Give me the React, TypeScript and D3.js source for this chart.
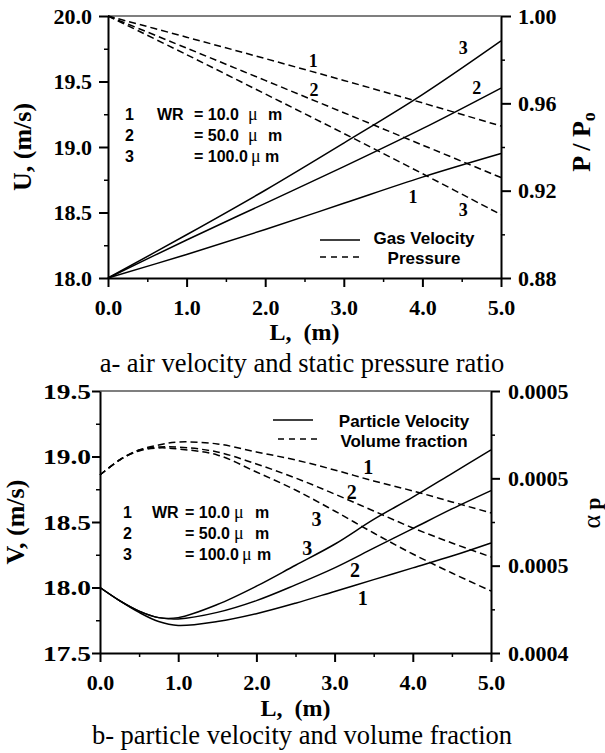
import React, { useEffect, useRef } from "react";
import * as d3 from "d3";

const SERIF = "'Liberation Serif','Times New Roman',serif";
const SANS = "'Liberation Sans',Arial,sans-serif";

// ---------- Chart a: gas velocity & pressure ratio ----------
const L_A = [0, 1, 2, 3, 4, 5];
const GAS_U1 = [18.0, 18.18, 18.37, 18.57, 18.77, 18.95];
const GAS_U2 = [18.0, 18.29, 18.57, 18.85, 19.14, 19.45];
const GAS_U3 = [18.0, 18.33, 18.67, 19.03, 19.4, 19.81];
const PRES_1 = [1.0, 0.9903, 0.9805, 0.9705, 0.9602, 0.9496];
const PRES_2 = [1.0, 0.9853, 0.9705, 0.9557, 0.9409, 0.926];
const PRES_3 = [1.0, 0.9823, 0.9643, 0.9462, 0.9278, 0.909];

const X_TICKS = [0, 1, 2, 3, 4, 5];
const A_U_TICKS = [18.0, 18.5, 19.0, 19.5, 20.0];
const A_P_TICKS = [0.88, 0.92, 0.96, 1.0];

// ---------- Chart b: particle velocity & volume fraction ----------
const L_B = [0, 0.25, 0.5, 0.75, 1, 1.5, 2, 2.5, 3, 3.5, 4, 4.5, 5];
const PART_V1 = [18.0, 17.9, 17.81, 17.74, 17.71, 17.74, 17.8, 17.88, 17.97, 18.06, 18.15, 18.24, 18.34];
const PART_V2 = [18.0, 17.9, 17.82, 17.77, 17.76, 17.81, 17.9, 18.02, 18.15, 18.3, 18.45, 18.6, 18.74];
const PART_V3 = [18.0, 17.9, 17.82, 17.77, 17.77, 17.87, 18.01, 18.17, 18.33, 18.52, 18.69, 18.87, 19.05];
const ALPHA_1 = [0.0005019, 0.0005105, 0.0005162, 0.0005191, 0.0005208, 0.0005197, 0.0005151, 0.0005105, 0.0005048, 0.0004985, 0.0004928, 0.0004865, 0.0004802];
const ALPHA_2 = [0.0005019, 0.0005105, 0.0005162, 0.0005179, 0.0005179, 0.0005151, 0.0005082, 0.0005002, 0.000491, 0.0004813, 0.0004716, 0.000463, 0.000455];
const ALPHA_3 = [0.0005019, 0.0005105, 0.0005157, 0.0005174, 0.0005168, 0.0005134, 0.0005036, 0.0004933, 0.0004813, 0.0004687, 0.0004567, 0.0004458, 0.0004355];

const B_V_TICKS = [17.5, 18.0, 18.5, 19.0, 19.5];
const B_A_TICKS = [0.0004, 0.00045, 0.0005, 0.00055];
const B_A_LABELS = ["0.0004", "0.0005", "0.0005", "0.0005"];

const WR_IDS = ["1", "2", "3"];
const WR_VALUES = ["= 10.0", "= 50.0", "= 100.0"];

const mids = (t: number[]) => d3.pairs(t).map(([a, b]) => (a + b) / 2);

function styleAxis(g: any, labelSize = 22) {
  g.attr("font-size", null).attr("font-family", null);
  g.select(".domain").attr("stroke", "#000").attr("stroke-width", 2);
  g.selectAll(".tick line").attr("stroke", "#000").attr("stroke-width", 2);
  g.selectAll(".tick text")
    .attr("font-family", SERIF)
    .attr("font-weight", "bold")
    .attr("font-size", labelSize)
    .attr("fill", "#000");
}

function minorAxis(parent: any, gen: any, transform: string) {
  const g = parent.append("g").attr("transform", transform).call(gen.tickSize(4).tickFormat(() => ""));
  g.select(".domain").remove();
  g.selectAll(".tick line").attr("stroke", "#000").attr("stroke-width", 1.5);
}

function drawCurves(g: any, x: any, y: any, xs: number[], series: number[][], dashed: boolean) {
  const line = d3
    .line<number>()
    .x((_, i) => x(xs[i]))
    .y((d) => y(d))
    .curve(d3.curveCatmullRom.alpha(0.5));
  series.forEach((s) => {
    g.append("path")
      .attr("d", line(s))
      .attr("fill", "none")
      .attr("stroke", "#000")
      .attr("stroke-width", 1.5)
      .attr("stroke-dasharray", dashed ? "7,4" : null);
  });
}

function curveLabel(g: any, px: number, py: number, text: string, size: number) {
  g.append("text")
    .attr("x", px)
    .attr("y", py)
    .attr("dy", "0.35em")
    .attr("text-anchor", "middle")
    .attr("font-family", SERIF)
    .attr("font-weight", "bold")
    .attr("font-size", size)
    .text(text);
}

function wrLegend(g: any, rows: { y: number; idX: number; wrX: number; eqX: number; muX: number[]; mX: number[] }) {
  WR_IDS.forEach((id, i) => {
    const by = rows.y + i * 21;
    const t = (x: number, s: string, fam = SANS, weight = "bold", size = 16) =>
      g.append("text").attr("x", x).attr("y", by).attr("font-family", fam).attr("font-weight", weight).attr("font-size", size).text(s);
    t(rows.idX, id);
    if (i === 0) t(rows.wrX, "WR");
    t(rows.eqX, WR_VALUES[i]);
    t(rows.muX[i], "\u03bc", SERIF, "normal", 18);
    t(rows.mX[i], "m");
  });
}

function drawA(svg: any) {
  const g = svg.append("g");
  const x = d3.scaleLinear([0, 5], [108, 501]);
  const y = d3.scaleLinear([18, 20], [278, 16]);
  const yp = d3.scaleLinear([0.88, 1.0], [278, 16]);

  // top frame
  g.append("line").attr("x1", x(0)).attr("x2", x(5)).attr("y1", y(20)).attr("y2", y(20)).attr("stroke", "#000").attr("stroke-width", 1.2);

  minorAxis(g, d3.axisBottom(x).tickValues(mids(X_TICKS)), `translate(0,${y(18)})`);
  minorAxis(g, d3.axisLeft(y).tickValues(mids(A_U_TICKS)), `translate(${x(0)},0)`);
  minorAxis(g, d3.axisRight(yp).tickValues(mids(A_P_TICKS)), `translate(${x(5)},0)`);

  const gx = g.append("g").attr("transform", `translate(0,${y(18)})`)
    .call(d3.axisBottom(x).tickValues(X_TICKS).tickSize(9).tickSizeOuter(0).tickFormat((d: any) => d.toFixed(1)));
  styleAxis(gx);
  gx.selectAll(".tick text").attr("y", 37).attr("dy", null);

  const gy = g.append("g").attr("transform", `translate(${x(0)},0)`)
    .call(d3.axisLeft(y).tickValues(A_U_TICKS).tickSize(9).tickPadding(7).tickSizeOuter(0).tickFormat((d: any) => d.toFixed(1)));
  styleAxis(gy);

  const gp = g.append("g").attr("transform", `translate(${x(5)},0)`)
    .call(d3.axisRight(yp).tickValues(A_P_TICKS).tickSize(10).tickPadding(7).tickSizeOuter(0).tickFormat((d: any) => d.toFixed(2)));
  styleAxis(gp);

  drawCurves(g, x, y, L_A, [GAS_U1, GAS_U2, GAS_U3], false);
  drawCurves(g, x, yp, L_A, [PRES_1, PRES_2, PRES_3], true);

  curveLabel(g, x(4.52), y(19.756), "3", 18);
  curveLabel(g, x(4.69), y(19.45), "2", 18);
  curveLabel(g, x(3.88), y(18.62), "1", 18);
  curveLabel(g, x(2.61), y(19.66), "1", 18);
  curveLabel(g, x(2.62), y(19.44), "2", 18);
  curveLabel(g, x(4.52), y(18.52), "3", 18);

  wrLegend(g, { y: 120, idX: 125, wrX: 157, eqX: 194, muX: [248, 248, 251], mX: [268, 268, 265] });

  // series legend
  g.append("line").attr("x1", 320).attr("x2", 360).attr("y1", 240).attr("y2", 240).attr("stroke", "#000").attr("stroke-width", 1.5);
  g.append("line").attr("x1", 320).attr("x2", 361).attr("y1", 257).attr("y2", 257).attr("stroke", "#000").attr("stroke-width", 1.5).attr("stroke-dasharray", "6,5");
  g.append("text").attr("x", 424).attr("y", 244).attr("text-anchor", "middle").attr("font-family", SANS).attr("font-weight", "bold").attr("font-size", 17).text("Gas Velocity");
  g.append("text").attr("x", 424).attr("y", 264).attr("text-anchor", "middle").attr("font-family", SANS).attr("font-weight", "bold").attr("font-size", 17).text("Pressure");

  // axis titles
  g.append("text").attr("transform", `translate(31,${(y(18) + y(20)) / 2}) rotate(-90)`).attr("text-anchor", "middle")
    .attr("font-family", SERIF).attr("font-weight", "bold").attr("font-size", 26).text("U, (m/s)");
  const pt = g.append("text").attr("transform", `translate(590,142) rotate(-90)`).attr("text-anchor", "middle")
    .attr("font-family", SERIF).attr("font-weight", "bold").attr("font-size", 26);
  pt.append("tspan").text("P / P");
  pt.append("tspan").attr("font-size", 18).attr("dy", 5).text("o");
  g.append("text").attr("x", (x(0) + x(5)) / 2).attr("y", 340).attr("text-anchor", "middle")
    .attr("font-family", SERIF).attr("font-weight", "bold").attr("font-size", 24).style("white-space", "pre").text("L,  (m)");
  g.append("text").attr("x", 302).attr("y", 372).attr("text-anchor", "middle")
    .attr("font-family", SERIF).attr("font-size", 26.5).text("a- air velocity and static pressure ratio");
}

function drawB(svg: any) {
  const g = svg.append("g");
  const x = d3.scaleLinear([0, 5], [100, 491]);
  const y = d3.scaleLinear([17.5, 19.5], [653, 391]);
  const ya = d3.scaleLinear([0.0004, 0.00055], [653, 391]);

  g.append("line").attr("x1", x(0)).attr("x2", x(5)).attr("y1", y(19.5)).attr("y2", y(19.5)).attr("stroke", "#000").attr("stroke-width", 1.2);

  minorAxis(g, d3.axisBottom(x).tickValues(mids(X_TICKS)), `translate(0,${y(17.5)})`);
  minorAxis(g, d3.axisLeft(y).tickValues(mids(B_V_TICKS)), `translate(${x(0)},0)`);
  minorAxis(g, d3.axisRight(ya).tickValues(mids(B_A_TICKS)), `translate(${x(5)},0)`);

  const gx = g.append("g").attr("transform", `translate(0,${y(17.5)})`)
    .call(d3.axisBottom(x).tickValues(X_TICKS).tickSize(9).tickSizeOuter(0).tickFormat((d: any) => d.toFixed(1)));
  styleAxis(gx);
  gx.selectAll(".tick text").attr("y", 37).attr("dy", null);

  const gy = g.append("g").attr("transform", `translate(${x(0)},0)`)
    .call(d3.axisLeft(y).tickValues(B_V_TICKS).tickSize(8).tickPadding(1).tickSizeOuter(0).tickFormat((d: any) => d.toFixed(1)));
  styleAxis(gy);
  gy.selectAll(".tick text").attr("textLength", 48).attr("lengthAdjust", "spacingAndGlyphs");

  const ga = g.append("g").attr("transform", `translate(${x(5)},0)`)
    .call(d3.axisRight(ya).tickValues(B_A_TICKS).tickSize(9).tickPadding(8).tickSizeOuter(0).tickFormat((_: any, i: number) => B_A_LABELS[i]));
  styleAxis(ga);

  drawCurves(g, x, y, L_B, [PART_V1, PART_V2, PART_V3], false);
  drawCurves(g, x, ya, L_B, [ALPHA_1, ALPHA_2, ALPHA_3], true);

  curveLabel(g, x(3.43), y(18.92), "1", 20);
  curveLabel(g, x(3.22), y(18.73), "2", 20);
  curveLabel(g, x(2.77), y(18.52), "3", 20);
  curveLabel(g, x(2.65), y(18.3), "3", 20);
  curveLabel(g, x(3.26), y(18.13), "2", 20);
  curveLabel(g, x(3.36), y(17.92), "1", 20);

  wrLegend(g, { y: 518, idX: 123, wrX: 152, eqX: 185, muX: [234, 234, 242], mX: [255, 255, 257] });

  g.append("line").attr("x1", 273).attr("x2", 313).attr("y1", 420).attr("y2", 420).attr("stroke", "#000").attr("stroke-width", 1.5);
  g.append("line").attr("x1", 278).attr("x2", 320).attr("y1", 439).attr("y2", 439).attr("stroke", "#000").attr("stroke-width", 1.5).attr("stroke-dasharray", "6,5");
  g.append("text").attr("x", 404).attr("y", 427).attr("text-anchor", "middle").attr("font-family", SANS).attr("font-weight", "bold").attr("font-size", 17).text("Particle Velocity");
  g.append("text").attr("x", 404).attr("y", 447).attr("text-anchor", "middle").attr("font-family", SANS).attr("font-weight", "bold").attr("font-size", 17).text("Volume fraction");

  g.append("text").attr("transform", `translate(24,${(y(17.5) + y(19.5)) / 2}) rotate(-90)`).attr("text-anchor", "middle")
    .attr("font-family", SERIF).attr("font-weight", "bold").attr("font-size", 26).text("V, (m/s)");
  const at = g.append("text").attr("transform", `translate(600,513) rotate(-90)`).attr("text-anchor", "middle")
    .attr("font-family", SERIF).attr("font-size", 26);
  at.append("tspan").text("\u03b1");
  at.append("tspan").attr("font-weight", "bold").attr("font-size", 22).attr("dx", 5).text("p");
  g.append("text").attr("x", (x(0) + x(5)) / 2).attr("y", 716).attr("text-anchor", "middle")
    .attr("font-family", SERIF).attr("font-weight", "bold").attr("font-size", 24).style("white-space", "pre").text("L,  (m)");
  g.append("text").attr("x", 302).attr("y", 744).attr("text-anchor", "middle")
    .attr("font-family", SERIF).attr("font-size", 26.5).text("b- particle velocity and volume fraction");
}

export default function App() {
  const ref = useRef<SVGSVGElement>(null);
  useEffect(() => {
    const svg = d3.select(ref.current);
    svg.selectAll("*").remove();
    drawA(svg);
    drawB(svg);
  }, []);
  return (
    <svg
      ref={ref}
      width={605}
      height={753}
      style={{ position: "absolute", left: 0, top: 0, background: "#fff" }}
    />
  );
}
